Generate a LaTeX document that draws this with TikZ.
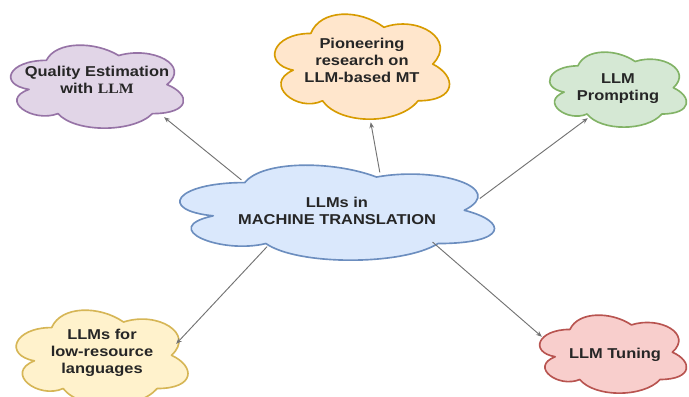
\documentclass[tikz,border=0pt]{standalone}
\usepackage{fontspec}
\setmainfont[FakeStretch=1.15]{Liberation Sans}
\newfontfamily\llmserif[FakeStretch=1.1]{Liberation Serif}
\usetikzlibrary{arrows.meta, shapes.geometric, backgrounds}
\definecolor{qpurple}{HTML}{E1D5E7}
\definecolor{qpurpleb}{HTML}{9673A6}
\definecolor{porange}{HTML}{FFE6CC}
\definecolor{porangeb}{HTML}{D79B00}
\definecolor{mgreen}{HTML}{D5E8D4}
\definecolor{mgreenb}{HTML}{82B366}
\definecolor{cblue}{HTML}{DAE8FC}
\definecolor{cblueb}{HTML}{6C8EBF}
\definecolor{lyellow}{HTML}{FFF2CC}
\definecolor{lyellowb}{HTML}{D6B656}
\definecolor{tpink}{HTML}{F8CECC}
\definecolor{tpinkb}{HTML}{B85450}
\tikzset{
  >=Stealth,
  font=\fontsize{12.2}{14.5}\selectfont\bfseries,
  topic/.style={
    ellipse, draw=none, align=center, inner sep=-40pt, text=black!85
  },
  puff/.style={draw=#1b, fill=#1, line width=1.4pt, line join=round},
  link/.style={-{Stealth[length=5pt,width=4pt]}, draw=black!55, line width=0.8pt}
}
% cloud outline round a node: node, width, height, x and y offset (px), colour
\newcommand{\cloudround}[6]{%
  \pgfmathsetmacro{\cloudw}{#2*0.03/0.897}%
  \pgfmathsetmacro{\cloudh}{#3*0.03/0.857}%
  \begin{scope}[shift={(#1.center)}, shift={(#4,#5)}]
  \begin{scope}[x=\cloudw cm, y=-\cloudh cm]
  \begin{scope}[shift={(-0.5125,-0.52)}]
    \draw[puff=#6] (0.25,0.25)
      .. controls (0.05,0.25) and (0,0.5) .. (0.16,0.55)
      .. controls (0,0.66) and (0.18,0.9) .. (0.31,0.8)
      .. controls (0.4,1) and (0.7,1) .. (0.8,0.8)
      .. controls (1,0.8) and (1,0.6) .. (0.875,0.5)
      .. controls (1,0.3) and (0.8,0.1) .. (0.625,0.2)
      .. controls (0.5,0.05) and (0.3,0.05) .. (0.25,0.25) -- cycle;
  \end{scope}
  \end{scope}
  \end{scope}}
\begin{document}
\begin{tikzpicture}[x=0.03cm, y=-0.03cm]
  \useasboundingbox (0,0) rectangle (689,397);
  % topics
  \node[topic, minimum width=9cm, minimum height=2.4cm] (llmmt) at (337,211)
    {LLMs in\\MACHINE TRANSLATION};
  \node[topic, minimum width=5.16cm, minimum height=3.54cm] (qe) at (97,80)
    {Quality Estimation\\with {\llmserif LLM}};
  \node[topic, minimum width=5.22cm, minimum height=3.74cm] (pioneer) at (362,60)
    {Pioneering\\research on\\LLM-based MT};
  \node[topic, minimum width=4.08cm, minimum height=1.94cm] (prompt) at (618,89)
    {LLM\\Prompting};
  \node[topic, minimum width=4.68cm, minimum height=1.7cm] (lowres) at (102,353)
    {LLMs for\\low-resource\\languages};
  \node[topic, minimum width=4.68cm, minimum height=3.06cm] (tuning) at (615,355)
    {LLM Tuning};
  \begin{scope}[on background layer]
    \cloudround{llmmt}{315}{95}{0}{1.5}{cblue}
    \cloudround{qe}{173}{83}{0}{6.5}{qpurple}
    \cloudround{pioneer}{175}{105}{0}{6.5}{porange}
    \cloudround{prompt}{137}{75}{0}{0.5}{mgreen}
    \cloudround{lowres}{172}{95}{0}{4.5}{lyellow}
    \cloudround{tuning}{147}{78}{-2}{-1}{tpink}
  \end{scope}
  % links
  \draw[link] (llmmt.162.5) -- (qe.-29.9);
  \draw[link] (llmmt.42) -- (pioneer.-82.6);
  \draw[link] (llmmt.5.3) -- (prompt.-136);
  \draw[link] (llmmt.-153.4) -- (lowres.7.8);
  \draw[link] (llmmt.-18.9) -- (tuning.166.1);
\end{tikzpicture}
\end{document}
